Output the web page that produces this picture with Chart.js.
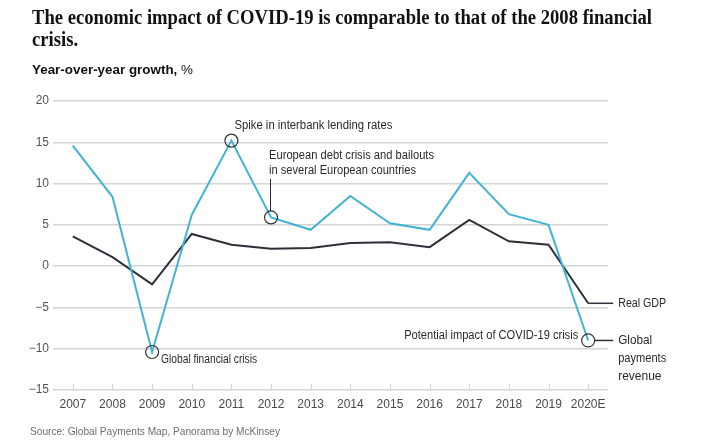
<!DOCTYPE html>
<html>
<head>
<meta charset="utf-8">
<script src="https://cdn.jsdelivr.net/npm/chart.js@4/dist/chart.umd.min.js"></script>
<style>
  html, body { margin: 0; padding: 0; background: #ffffff; }
  #wrap { position: relative; width: 720px; height: 444px; overflow: hidden; background: #fff; }
  #c { position: absolute; left: 0; top: 0; }
  .txt { position: absolute; white-space: nowrap; transform-origin: 0 0; }
  #title { left: 32px; top: 6px; font-family: "Liberation Serif", "DejaVu Serif", serif; font-weight: bold; font-size: 20px; line-height: 22px; color: #111; }
  #sub { left: 32px; top: 62px; font-family: "Liberation Sans", Arial, sans-serif; font-size: 13px; color: #111; }
  #src { left: 30px; top: 425px; font-family: "Liberation Sans", Arial, sans-serif; font-size: 11px; color: #6e6e6e; }
</style>
</head>
<body>
<div id="wrap">
  <canvas id="c" width="720" height="444"></canvas>
  <div class="txt" id="title"><span id="t1">The economic impact of COVID-19 is comparable to that of the 2008 financial</span><br><span id="t2">crisis.</span></div>
  <div class="txt" id="sub"><b>Year-over-year growth,</b> %</div>
  <div class="txt" id="src">Source: Global Payments Map, Panorama by McKinsey</div>
</div>
<script>
// ---- Data ----
const years = ['2007','2008','2009','2010','2011','2012','2013','2014','2015','2016','2017','2018','2019','2020E'];
const paymentsRevenue = [14.6, 8.4, -10.4, 6.2, 15.2, 5.9, 4.4, 8.5, 5.2, 4.4, 11.3, 6.3, 5.0, -9.0];
const realGDP = [3.6, 1.1, -2.2, 3.9, 2.6, 2.1, 2.2, 2.8, 2.9, 2.3, 5.6, 3.0, 2.6, -4.5];
const yTicks = [-15, -10, -5, 0, 5, 10, 15, 20];
const circledYears = ['2009', '2011', '2012', '2020E'];
const seriesNames = ['Global payments revenue', 'Real GDP'];

// fit HTML text widths
function fitWidth(el, w) {
  const r = el.getBoundingClientRect().width;
  if (r > 0) el.style.transform = 'scaleX(' + (w / r) + ')';
}
const t1 = document.getElementById('t1');
const titleEl = document.getElementById('title');
(function(){
  const w = t1.getBoundingClientRect().width;
  titleEl.style.transform = 'scaleX(' + (620 / w) + ')';
})();
fitWidth(document.getElementById('sub'), 161);
fitWidth(document.getElementById('src'), 250);

const BLUE = '#41b3d3';
const DARK = '#2b3138';
const GRID = '#d4d4d4';

const annotations = {
  id: 'annotations',
  afterDatasetsDraw(chart) {
    const ctx = chart.ctx;
    const x = chart.scales.x, y = chart.scales.y;
    const px = (lab) => x.getPixelForValue(years.indexOf(lab));
    const pyB = (lab) => y.getPixelForValue(paymentsRevenue[years.indexOf(lab)]);
    const pyG = (lab) => y.getPixelForValue(realGDP[years.indexOf(lab)]);
    ctx.save();
    // x tick marks (upward from axis)
    ctx.strokeStyle = GRID;
    ctx.lineWidth = 1.2;
    years.forEach((lab, i) => {
      const xx = Math.round(x.getPixelForValue(i)) + 0.5;
      ctx.beginPath();
      ctx.moveTo(xx, chart.chartArea.bottom);
      ctx.lineTo(xx, chart.chartArea.bottom - 6);
      ctx.stroke();
    });

    ctx.fillStyle = '#2a2a2a';
    ctx.font = '12px "Liberation Sans", Arial, sans-serif';
    ctx.textBaseline = 'middle';
    ctx.textAlign = 'left';
    // Spike annotation
    ctx.fillText('Spike in interbank lending rates', px('2011') + 3, pyB('2011') - 15, 158);
    // European debt crisis
    const ex = px('2012');
    ctx.fillText('European debt crisis and bailouts', ex - 2, 156, 165);
    ctx.fillText('in several European countries', ex - 2, 171, 147);
    ctx.strokeStyle = '#2a2a2a';
    ctx.lineWidth = 1;
    ctx.beginPath();
    ctx.moveTo(Math.round(ex) - 0.5, 179);
    ctx.lineTo(Math.round(ex) - 0.5, pyB('2012') - 6);
    ctx.stroke();
    // Global financial crisis
    ctx.fillText('Global financial crisis', px('2009') + 9, pyB('2009') + 8, 96);
    // Potential impact
    ctx.textAlign = 'right';
    ctx.fillText('Potential impact of COVID-19 crisis', px('2020E') - 10, pyB('2020E') - 5, 174);
    // Right labels
    ctx.textAlign = 'left';
    const lx = px('2020E');
    const gy = pyG('2020E');
    ctx.strokeStyle = DARK;
    ctx.lineWidth = 1.5;
    ctx.beginPath();
    ctx.moveTo(lx, gy);
    ctx.lineTo(lx + 25, gy);
    ctx.stroke();
    ctx.fillText('Real GDP', lx + 30, gy, 48);
    const by = pyB('2020E');
    ctx.beginPath();
    ctx.moveTo(lx + 6, by);
    ctx.lineTo(lx + 25, by);
    ctx.stroke();
    ctx.fillText('Global', lx + 30, by, 34);
    ctx.fillText('payments', lx + 30, by + 18, 48);
    ctx.fillText('revenue', lx + 30, by + 36, 45);
    ctx.restore();
  }
};

new Chart(document.getElementById('c'), {
  type: 'line',
  data: {
    labels: years,
    datasets: [
      {
        label: seriesNames[0],
        data: paymentsRevenue,
        borderColor: BLUE,
        borderWidth: 2,
        tension: 0,
        pointRadius: years.map(l => circledYears.includes(l) ? 6.5 : 0),
        pointHoverRadius: 0,
        pointBackgroundColor: 'rgba(0,0,0,0)',
        pointBorderColor: '#333',
        pointBorderWidth: 1.2,
        order: 1
      },
      {
        label: seriesNames[1],
        data: realGDP,
        borderColor: DARK,
        borderWidth: 2,
        tension: 0,
        pointRadius: 0,
        order: 2
      }
    ]
  },
  options: {
    responsive: false,
    animation: false,
    events: [],
    layout: { padding: { left: 0, right: 112, top: 101, bottom: 24 } },
    plugins: { legend: { display: false }, tooltip: { enabled: false } },
    scales: {
      x: {
        offset: true,
        grid: { display: false, drawTicks: false },
        border: { display: false },
        ticks: {
          color: '#4a4a4a',
          font: { family: '"Liberation Sans", Arial, sans-serif', size: 12 },
          padding: 7,
          maxRotation: 0,
          autoSkip: false
        },
        afterFit(s) { s.height = 30; }
      },
      y: {
        min: -15, max: 20,
        afterBuildTicks(s) { s.ticks = yTicks.map(v => ({ value: v })); },
        grid: { color: GRID, lineWidth: 1.5, drawTicks: false },
        border: { display: false },
        ticks: {
          color: '#555',
          font: { family: '"Liberation Sans", Arial, sans-serif', size: 12 },
          padding: 4,
          callback: (v) => String(v).replace('-', '\u2212')
        },
        afterFit(s) { s.width = 53; }
      }
    }
  },
  plugins: [annotations]
});
</script>
</body>
</html>
